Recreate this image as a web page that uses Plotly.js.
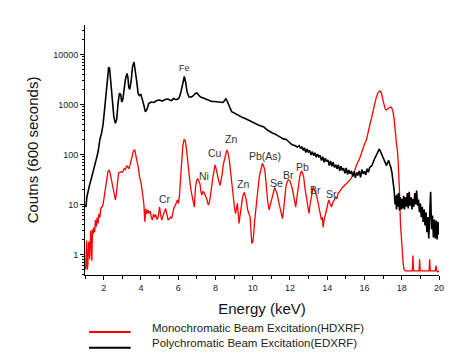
<!DOCTYPE html>
<html>
<head>
<meta charset="utf-8">
<script src="https://cdn.plot.ly/plotly-3.0.1.min.js"></script>
<style>html,body{margin:0;padding:0;background:#fff;}#chart{width:475px;height:359px;}</style>
</head>
<body>
<div id="chart"></div>
<script>
// Polychromatic Beam Excitation (EDXRF) – black
const polyEnergy = [1.00,1.05,1.10,1.18,1.25,1.33,1.42,1.50,1.60,1.70,1.80,1.90,1.97,2.05,2.12,2.20,2.27,2.32,2.40,2.47,2.55,2.63,2.70,2.78,2.85,2.92,2.97,3.03,3.10,3.17,3.25,3.30,3.35,3.40,3.47,3.55,3.63,3.70,3.78,3.85,3.92,4.00,4.08,4.15,4.24,4.32,4.42,4.55,4.70,4.85,5.00,5.15,5.30,5.45,5.55,5.65,5.75,5.85,5.95,6.05,6.15,6.25,6.33,6.40,6.48,6.58,6.70,6.80,6.92,7.00,7.10,7.20,7.35,7.50,7.65,7.80,7.95,8.10,8.25,8.40,8.50,8.57,8.65,8.75,8.87,9.00,9.15,9.30,9.45,9.60,9.75,9.95,10.15,10.30,10.45,10.60,10.75,10.90,11.05,11.20,11.35,11.50,11.65,11.80,11.95,12.10,12.25,12.40,
12.50,12.57,12.64,12.71,12.78,12.85,12.92,12.99,13.06,13.13,13.20,13.27,13.34,13.41,13.48,13.55,13.62,13.69,13.76,13.83,13.90,13.97,14.04,14.11,14.18,14.25,14.32,14.39,14.46,14.53,14.60,14.67,14.74,14.81,14.88,14.95,15.02,15.09,15.16,15.23,15.30,15.37,15.44,15.51,15.58,15.65,15.72,15.79,15.86,15.93,16.00,16.07,16.14,16.21,16.28,16.35,
16.40,16.50,16.58,16.66,16.74,16.80,16.86,16.92,17.00,17.06,17.12,17.18,17.24,17.30,17.36,17.42,17.48,17.54,17.60,17.64,17.68,17.72,17.76,17.80,17.84,17.88,17.92,17.96,18.00,18.05,18.10,18.15,18.20,18.25,18.30,18.35,18.40,18.45,18.50,18.55,18.60,18.65,18.70,18.75,18.80,18.85,18.90,18.95,19.00,19.05,19.10,19.15,19.20,19.25,19.30,19.35,19.40,19.45,19.50,19.55,19.60,19.65,19.70,19.75,19.80,19.85,19.90,19.95,19.98];
const polyCounts = [10,8.9,14,20,25,32,42,60,79,112,200,280,400,790,1580,3550,5600,5250,2500,1260,560,420,500,1120,1660,1580,1120,1260,2240,3160,4170,3550,2240,2000,2820,5620,7080,5010,2820,1660,1510,1580,1260,1000,710,790,1050,1120,1100,1200,1230,1170,1260,1290,1230,1200,1320,1260,1260,1350,1780,2820,3630,2820,1780,1410,1410,1480,1660,1700,1510,1410,1350,1290,1200,1150,1150,1120,1100,1100,1200,1320,1120,930,720,680,630,590,550,525,490,450,420,390,370,355,316,290,270,257,235,220,205,200,178,158,151,141,
150,132,144,121,136,110,128,112,120,98,114,95,108,88,102,90,96,76,90,70,84,72,78,60,74,58,70,55,62,52,62,47,58,48,53,42,54,40,49,41,47,36,46,34,44,38,47,35,50,41,46,39,52,44,55,58,
60,76,89,100,117,129,115,100,87,72,63,60,69,76,63,55,42,28,18,10,15,8,16,9,17,7.6,14,8,13,8.3,15,8,14,9,17,8.3,18,9.5,14,8,13,9,17,10,19,9.5,12.6,7,10.5,5.6,9,4.5,8,3.8,7,2.8,5.6,2.1,5,18,3.2,6,2.2,5,2.1,4.8,2,4.5,2.5];

// Monochromatic Beam Excitation (HDXRF) – red
const monoEnergy = [1.03,1.06,1.09,1.12,1.15,1.19,1.22,1.25,1.28,1.31,1.34,1.37,1.40,1.44,1.48,1.52,1.56,1.61,1.65,1.70,1.75,1.80,1.85,1.92,1.97,2.02,2.07,2.12,2.17,2.23,2.29,2.34,2.40,2.45,2.52,2.58,2.63,2.68,2.74,2.80,2.86,2.92,2.98,3.04,3.10,3.17,3.24,3.30,3.36,3.42,3.48,3.54,3.60,3.67,3.74,3.80,3.86,3.93,4.00,4.06,4.11,4.16,4.21,4.26,4.32,4.38,4.44,4.50,4.56,4.62,4.68,4.74,4.80,4.86,4.93,5.00,5.06,5.12,5.19,5.26,5.33,5.40,5.46,5.53,5.60,5.66,5.72,5.78,5.84,5.90,5.96,6.02,6.07,6.12,6.18,6.25,6.32,6.38,6.45,6.52,6.58,6.64,6.70,6.76,6.82,6.87,6.93,6.99,7.05,7.11,7.17,7.22,7.27,7.33,7.39,7.45,7.50,7.56,7.62,7.68,7.73,7.78,7.84,7.91,7.98,8.05,8.12,8.19,8.25,8.30,8.36,8.42,8.48,8.55,8.61,8.67,8.73,8.79,8.84,8.89,8.95,9.02,9.08,9.13,9.18,9.23,9.27,9.32,9.36,9.41,9.46,9.51,9.56,9.61,9.66,9.73,9.79,9.86,9.91,9.95,10.00,10.04,10.10,10.16,10.22,10.27,10.33,10.39,10.45,10.52,10.58,10.65,10.70,10.74,10.80,10.88,10.95,11.01,11.08,11.13,11.18,11.25,11.31,11.38,11.45,11.52,11.60,11.66,11.72,11.78,11.84,11.91,11.99,12.05,12.11,12.17,12.22,12.27,12.31,12.36,12.40,12.46,12.52,12.57,12.62,12.68,12.74,12.80,12.88,12.95,13.02,13.08,13.15,13.20,13.24,13.30,13.36,13.45,13.51,13.56,13.62,13.69,13.74,13.78,13.82,13.87,13.92,13.96,14.02,14.08,14.15,14.23,14.31,14.38,14.46,14.52,14.58,14.65,14.71,14.78,14.85,14.92,14.99,15.06,15.12,15.20,15.28,15.38,15.46,15.56,15.64,15.72,15.83,15.92,16.00,16.10,16.18,16.26,16.35,16.42,16.50,16.58,16.64,16.72,16.80,16.86,16.92,16.99,17.06,17.12,17.17,17.24,17.30,17.38,17.45,17.52,17.58,17.62,17.67,17.72,17.77,17.81,17.85,17.89,17.93,17.98,18.02,18.07,18.12,18.20,18.30,18.40,18.50,18.57,18.60,18.63,18.70,18.80,18.90,18.93,18.96,18.99,19.10,19.25,19.40,19.47,19.50,19.53,19.65,19.80,19.84,19.88,19.95,20.00];
const monoCounts = [0.5,1.2,1.9,0.5,0.6,1.7,1.8,0.8,1.6,3.0,1.5,0.75,3.2,2.6,3.5,2.8,4.9,3.6,5.5,4.2,6.5,5.5,8.5,9,10,13,17,24,30,45,49,44,34,28,22,16,12.3,16,28,42,44,45,44,46,52,50,60,57,52,62,78,95,118,123,95,72,55,35,28,20,14,10,4.5,8.3,6.5,7.8,6.6,7.4,5.5,4.9,6.5,5.6,6.2,5,5.6,8.9,6.2,4.9,6,7.1,8.3,6.3,4.9,5.2,5.6,5.4,7.1,8.9,9.5,11,12.3,10.5,15,30,75,150,200,190,125,60,35,26,18,14,11,8.9,22,30,33,30,26,18,15.5,18,17.8,15,14,12,9.8,11,14,20,31,50,62,50,35,28,24,30,40,62,78,110,123,110,85,55,35,22,12,8.9,6.6,9,10.5,6,4.2,6,7.8,11.5,14,16.6,17,14.5,12,7.8,6.5,5.6,3,1.66,1.8,2.24,4.5,7.8,13,20,30,42,55,66,60,49,32,20,12,7.8,10,12.3,16,20,22,18.6,16.6,12,8.9,6.3,5.2,8,14,22,28,31,30,26,22,17,14,10.5,8.9,12.5,16.6,26,35,42,47,42,35,22,14,9,6.6,10,14,18,22,20,18,14,11,8.9,6.3,4.9,5.6,3.5,4.6,5.6,7.1,7.8,10,12.3,10.5,8.9,11.2,12.6,14,13,16.6,17.8,19.5,21,22.4,24,26,27,28,30,33,39,45,60,68,80,105,135,160,195,260,350,490,610,850,1200,1420,1700,1850,1850,1650,1230,950,800,780,820,860,890,870,760,550,420,260,160,120,70,40,15,4.2,2.0,1.2,0.7,0.5,0.47,0.47,0.47,0.47,0.47,0.95,0.47,0.47,0.47,0.47,0.47,0.8,0.47,0.47,0.47,0.47,0.47,0.8,0.47,0.47,0.47,0.6,0.47,0.45,0.47];

const yTickVals = [1, 10, 100, 1000, 10000];
const yTickText = ['1', '10', '100', '1000', '10000'];
const xTickVals = [2, 4, 6, 8, 10, 12, 14, 16, 18, 20];

const peakLabels = ['Fe', 'Cr', 'Ni', 'Cu', 'Zn', 'Zn', 'Pb(As)', 'Se', 'Br', 'Pb', 'Br', 'Sr'];
const peakLabelEnergy = [6.35, 5.32, 7.37, 7.96, 8.86, 9.48, 10.65, 11.27, 11.90, 12.70, 13.38, 14.23];
const peakLabelCounts = [5400, 12.6, 37, 107, 200, 26, 93, 27, 39, 56, 19.5, 16.2];

const seriesNames = ['Monochromatic Beam Excitation(HDXRF)', 'Polychromatic Beam Excitation(EDXRF)'];
const seriesColors = ['#ff0000', '#000000'];

const minorVals = [];
for (let d = -1; d <= 4; d++) {
  for (let k = 2; k <= 9; k++) minorVals.push(k * Math.pow(10, d));
}

const FONT = 'Liberation Sans, Arial, sans-serif';

const traces = [
  {x: monoEnergy, y: monoCounts, type: 'scatter', mode: 'lines', name: seriesNames[0],
   line: {color: seriesColors[0], width: 1.3}, showlegend: false},
  {x: polyEnergy, y: polyCounts, type: 'scatter', mode: 'lines', name: seriesNames[1],
   line: {color: seriesColors[1], width: 1.6}, showlegend: false}
];

const annotations = peakLabels.map((t, i) => ({
  x: peakLabelEnergy[i], y: Math.log10(peakLabelCounts[i]), xref: 'x', yref: 'y',
  text: t, showarrow: false, xanchor: 'center', yanchor: 'middle',
  font: {family: FONT, size: i === 0 ? 9 : 10.5, color: '#333'}
}));

// legend (manual, below the plot)
const legY = [-0.213, -0.271];
const lineY = [-0.228, -0.291];
const shapes = [];
seriesNames.forEach((n, i) => {
  shapes.push({type: 'line', xref: 'paper', yref: 'paper', x0: 0.0113, x1: 0.129, y0: lineY[i], y1: lineY[i],
    line: {color: seriesColors[i], width: 2}});
  annotations.push({x: 0.185, y: legY[i], xref: 'paper', yref: 'paper', text: n, showarrow: false,
    xanchor: 'left', yanchor: 'middle', font: {family: FONT, size: 11.5, color: '#222'}});
});

const layout = {
  width: 475, height: 359,
  margin: {l: 85, r: 36, t: 25, b: 84},
  paper_bgcolor: '#fff', plot_bgcolor: '#fff',
  font: {family: FONT, color: '#222'},
  showlegend: false,
  xaxis: {
    range: [1, 20], tickmode: 'array', tickvals: xTickVals,
    ticks: 'outside', ticklen: 4, tickcolor: '#000', tickwidth: 1,
    minor: {dtick: 1, tick0: 0, ticks: 'outside', ticklen: 3, tickcolor: '#000', showgrid: false},
    showline: true, linecolor: '#000', linewidth: 1, mirror: false,
    showgrid: false, zeroline: false,
    tickfont: {family: FONT, size: 9, color: '#222'},
    title: {text: 'Energy (keV)', font: {family: FONT, size: 15, color: '#111'}, standoff: 11}
  },
  yaxis: {
    type: 'log', range: [-0.41, 4.59], tickmode: 'array', tickvals: yTickVals, ticktext: yTickText,
    ticks: 'outside', ticklen: 4, tickcolor: '#000', tickwidth: 1,
    minor: {tickmode: 'array', tickvals: minorVals, ticks: 'outside', ticklen: 2, tickcolor: '#000', showgrid: false},
    showline: true, linecolor: '#000', linewidth: 1, mirror: false,
    showgrid: false, zeroline: false,
    tickfont: {family: FONT, size: 9, color: '#222'},
    title: {text: 'Coutns (600 seconds)', font: {family: FONT, size: 15, color: '#111'}, standoff: 10}
  },
  annotations: annotations,
  shapes: shapes
};

Plotly.newPlot('chart', traces, layout, {displayModeBar: false, staticPlot: true});
</script>
</body>
</html>
